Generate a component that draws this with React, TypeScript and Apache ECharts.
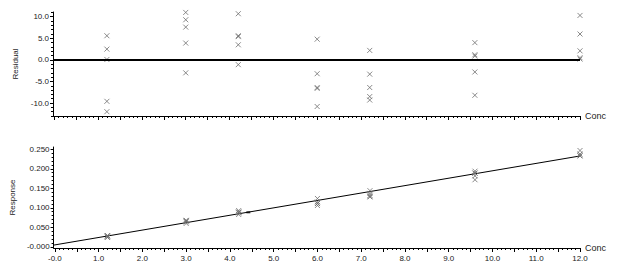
import React, { useEffect, useRef } from "react";
import * as echarts from "echarts";

// ---- data ----
const concLevels = [1.2, 3.0, 4.2, 6.0, 7.2, 9.6, 12.0];
const residualsByLevel = [
  [5.6, 2.5, 0.1, -9.6, -12.0],
  [11.0, 9.3, 7.6, 3.9, -3.0],
  [10.7, 5.6, 5.4, 3.5, -1.1],
  [4.8, -3.2, -6.4, -6.6, -10.8],
  [2.2, -3.3, -6.4, -8.5, -9.3],
  [4.0, 1.2, 0.9, -2.8, -8.2],
  [10.3, 6.0, 2.1, 0.5, 0.2],
];
const responsesByLevel = [
  [0.029, 0.0282, 0.0275, 0.0249, 0.0242],
  [0.068, 0.067, 0.066, 0.064, 0.06],
  [0.093, 0.089, 0.089, 0.087, 0.083],
  [0.124, 0.115, 0.111, 0.111, 0.106],
  [0.144, 0.137, 0.132, 0.129, 0.128],
  [0.194, 0.189, 0.189, 0.182, 0.172],
  [0.257, 0.247, 0.238, 0.234, 0.233],
];
const fitConc = [-0.03, 12.0];
const fitResponse = [0.0044, 0.233];
const unknownConc = [4.42];
const unknownResponse = [0.0885];

const concTicks = [0, 1, 2, 3, 4, 5, 6, 7, 8, 9, 10, 11, 12];
const concTickLabels = ["-0.0", "1.0", "2.0", "3.0", "4.0", "5.0", "6.0", "7.0", "8.0", "9.0", "10.0", "11.0", "12.0"];
const residualTicks = [-10, -5, 0, 5, 10];
const residualTickLabels = ["-10.0", "-5.0", "0.0", "5.0", "10.0"];
const responseTicks = [0, 0.05, 0.1, 0.15, 0.2, 0.25];
const responseTickLabels = ["-0.000", "0.050", "0.100", "0.150", "0.200", "0.250"];

// axis ranges
const concMin = -0.03;
const concMax = 12.0;
const residualMin = -13;
const residualMax = 11.1;
const responseMin = -0.003;
const responseMax = 0.256;

function steps(from: number, to: number, step: number): number[] {
  const out: number[] = [];
  const n = Math.round((to - from) / step);
  for (let i = 0; i <= n; i++) out.push(+(from + i * step).toFixed(6));
  return out;
}

const FONT = "'Liberation Sans', Arial, sans-serif";
const X_SYMBOL = "path://M0,0L10,10M0,10L10,0";

function labelFrom(ticks: number[], labels: string[]) {
  return (v: number) => {
    const i = ticks.findIndex((t) => Math.abs(t - v) < 1e-6);
    return i >= 0 ? labels[i] : "";
  };
}

export default function App() {
  const ref = useRef<HTMLDivElement>(null);
  useEffect(() => {
    if (!ref.current) return;
    const chart = echarts.init(ref.current, null, { renderer: "svg" });

    const residualData: number[][] = [];
    const responseData: number[][] = [];
    concLevels.forEach((c, i) => {
      residualsByLevel[i].forEach((r) => residualData.push([c, r]));
      responsesByLevel[i].forEach((r) => responseData.push([c, r]));
    });

    const axisLine = { show: true, onZero: false, lineStyle: { color: "#000", width: 1 } };
    const hiddenLine = { show: false, onZero: false };
    const labelStyle = { color: "#222", fontSize: 8, fontFamily: FONT };

    const makeX = (gridIndex: number, showLabels: boolean) => [
      {
        type: "value",
        gridIndex,
        position: "bottom",
        min: concMin,
        max: concMax,
        name: "Conc",
        nameLocation: "end",
        nameGap: 5,
        nameTextStyle: { color: "#222", fontSize: 9, fontFamily: FONT },
        axisLine,
        splitLine: { show: false },
        axisTick: { show: true, customValues: steps(0, 12, 0.5), length: 4, lineStyle: { color: "#000" } },
        axisLabel: {
          show: showLabels,
          customValues: concTicks,
          formatter: labelFrom(concTicks, concTickLabels),
          margin: 6,
          ...labelStyle,
        },
      },
      {
        type: "value",
        gridIndex,
        position: "bottom",
        min: concMin,
        max: concMax,
        axisLine: hiddenLine,
        splitLine: { show: false },
        axisTick: { show: true, customValues: steps(0, 12, 0.1), length: 2, lineStyle: { color: "#000" } },
        axisLabel: { show: false },
      },
    ];

    const makeY = (
      gridIndex: number,
      min: number,
      max: number,
      name: string,
      ticks: number[],
      labels: string[],
      minorFrom: number,
      minorTo: number,
      minorStep: number
    ) => [
      {
        type: "value",
        gridIndex,
        position: "left",
        min,
        max,
        name,
        nameLocation: "middle",
        nameGap: 26,
        nameTextStyle: { color: "#222", fontSize: 8, fontFamily: FONT },
        axisLine,
        splitLine: { show: false },
        axisTick: { show: true, customValues: ticks, length: 3, lineStyle: { color: "#000" } },
        axisLabel: { customValues: ticks, formatter: labelFrom(ticks, labels), margin: 4, ...labelStyle },
      },
      {
        type: "value",
        gridIndex,
        position: "left",
        min,
        max,
        axisLine: hiddenLine,
        splitLine: { show: false },
        axisTick: { show: true, customValues: steps(minorFrom, minorTo, minorStep), length: 2, lineStyle: { color: "#000" } },
        axisLabel: { show: false },
      },
    ];

    const markerStyle = { color: "transparent", borderColor: "#6e6e6e", borderWidth: 1 };

    chart.setOption({
      animation: false,
      backgroundColor: "#fff",
      grid: [
        { left: 53, right: 46, top: 12, height: 104 },
        { left: 53, right: 46, top: 147, height: 101 },
      ],
      xAxis: [...makeX(0, false), ...makeX(1, true)],
      yAxis: [
        ...makeY(0, residualMin, residualMax, "Residual", residualTicks, residualTickLabels, -13, 11, 1),
        ...makeY(1, responseMin, responseMax, "Response", responseTicks, responseTickLabels, 0, 0.25, 0.01),
      ],
      series: [
        {
          type: "scatter",
          xAxisIndex: 0,
          yAxisIndex: 0,
          data: residualData,
          symbol: X_SYMBOL,
          symbolSize: 5,
          itemStyle: markerStyle,
          markLine: {
            silent: true,
            symbol: ["none", "none"],
            label: { show: false },
            lineStyle: { color: "#000", width: 2, type: "solid" },
            data: [{ yAxis: 0 }],
          },
          z: 3,
        },
        {
          type: "line",
          xAxisIndex: 2,
          yAxisIndex: 2,
          data: fitConc.map((c, i) => [c, fitResponse[i]]),
          showSymbol: false,
          lineStyle: { color: "#000", width: 1 },
          z: 2,
        },
        {
          type: "scatter",
          xAxisIndex: 2,
          yAxisIndex: 2,
          data: responseData,
          symbol: X_SYMBOL,
          symbolSize: 5,
          itemStyle: markerStyle,
          z: 3,
        },
        {
          type: "scatter",
          xAxisIndex: 2,
          yAxisIndex: 2,
          data: unknownConc.map((c, i) => [c, unknownResponse[i]]),
          symbol: "rect",
          symbolSize: [4, 2],
          itemStyle: { color: "#000" },
          z: 4,
        },
      ],
    });
    return () => chart.dispose();
  }, []);
  return (
    <div
      ref={ref}
      style={{ position: "fixed", left: 0, top: 0, width: 626, height: 273, background: "#fff" }}
    />
  );
}
